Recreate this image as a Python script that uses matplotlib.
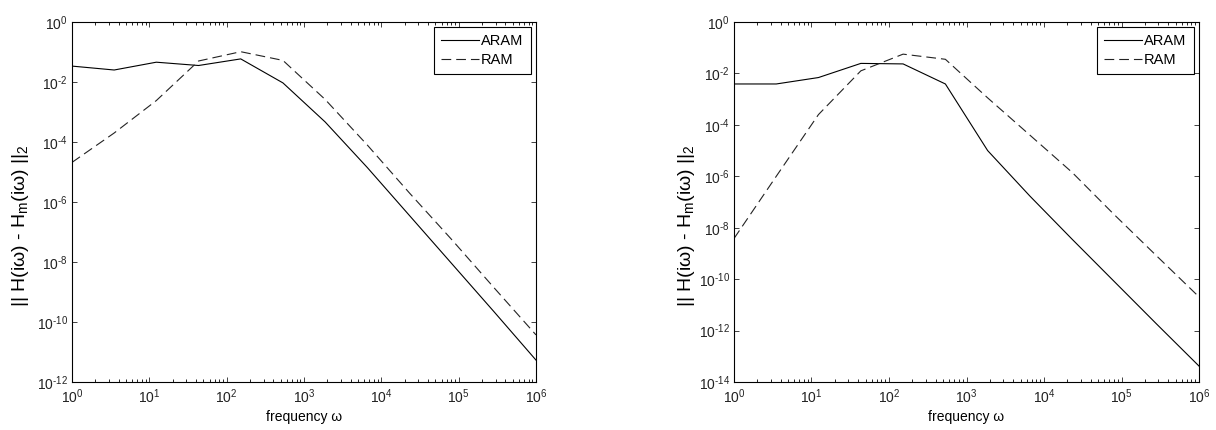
import matplotlib
matplotlib.use("Agg")
import matplotlib.pyplot as plt
import matplotlib.ticker as ticker

plt.rcParams["font.family"] = ["Liberation Sans", "DejaVu Sans"]
plt.rcParams["mathtext.fontset"] = "custom"
plt.rcParams["mathtext.rm"] = "Liberation Sans"
plt.rcParams["mathtext.it"] = "Liberation Sans:italic"
plt.rcParams["mathtext.default"] = "regular"
plt.rcParams["axes.unicode_minus"] = False
plt.rcParams["lines.scale_dashes"] = False

# frequency samples
freq = [1.0, 3.51, 12.3, 43.3, 152.0, 534.0, 1874.0, 6580.0,
        23100.0, 81100.0, 284800.0, 1.0e6]

# left panel: log10 of the error
left_aram_log = [-1.47, -1.60, -1.34, -1.45, -1.23, -2.03,
                 -3.33, -4.85, -6.45, -8.05, -9.65, -11.27]
left_ram_log = [-4.68, -3.70, -2.62, -1.30, -0.99, -1.28,
                -2.58, -4.10, -5.70, -7.25, -8.85, -10.43]

# right panel: log10 of the error
right_aram_log = [-2.41, -2.41, -2.16, -1.61, -1.63, -2.41,
                  -5.00, -6.77, -8.45, -10.10, -11.75, -13.38]
right_ram_log = [-8.42, -6.00, -3.60, -1.90, -1.25, -1.45,
                 -2.95, -4.40, -5.85, -7.50, -9.10, -10.69]

panels = [
    {"aram": left_aram_log, "ram": left_ram_log, "ymin_exp": -12,
     "rect": [72 / 1216, 48 / 430, 464 / 1216, 360 / 430], "ylab_x": -0.088},
    {"aram": right_aram_log, "ram": right_ram_log, "ymin_exp": -14,
     "rect": [734 / 1216, 48 / 430, 465 / 1216, 360 / 430], "ylab_x": -0.080},
]


def pow10(val, pos):
    # MATLAB style exponent with a plain hyphen
    e = int(round(__import__("math").log10(val)))
    if e < 0:
        return r"$10^{\text{-}%d}$" % abs(e)
    return r"$10^{%d}$" % e


fig = plt.figure(figsize=(12.16, 4.30), dpi=100)

for p in panels:
    ax = fig.add_axes(p["rect"])
    aram = [10 ** v for v in p["aram"]]
    ram = [10 ** v for v in p["ram"]]
    ax.plot(freq, aram, color="black", lw=0.8, label="ARAM")
    ax.plot(freq, ram, color="#222222", lw=0.8, ls=(0, (7.0, 3.6)), label="RAM")
    ax.set_xscale("log")
    ax.set_yscale("log")
    ax.set_xlim(1, 1e6)
    ax.set_ylim(10.0 ** p["ymin_exp"], 1)

    ax.xaxis.set_major_locator(ticker.LogLocator(base=10, numticks=10))
    ax.xaxis.set_minor_locator(ticker.LogLocator(base=10, subs=range(2, 10), numticks=20))
    ax.set_yticks([10.0 ** e for e in range(p["ymin_exp"], 1, 2)])
    ax.yaxis.set_minor_locator(ticker.NullLocator())
    ax.xaxis.set_major_formatter(ticker.FuncFormatter(pow10))
    ax.yaxis.set_major_formatter(ticker.FuncFormatter(pow10))

    ax.tick_params(which="both", direction="in", top=True, right=True, width=0.6)
    ax.tick_params(which="major", length=3.6, labelsize=10, colors="#222222")
    ax.tick_params(which="minor", length=2.0)
    ax.tick_params(axis="x", which="major", pad=4)
    ax.tick_params(axis="y", which="major", pad=3)
    for s in ax.spines.values():
        s.set_linewidth(0.8)

    ax.set_xlabel("frequency ω", fontsize=10, labelpad=3)
    ax.set_ylabel("|| H(iω) - H$_m$(iω) ||$_2$", fontsize=14)
    ax.yaxis.set_label_coords(p["ylab_x"], 0.435)

    leg = ax.legend(loc="upper right", fontsize=10.5, handlelength=2.6,
                    handletextpad=0.15, borderaxespad=0.35, fancybox=False,
                    framealpha=1, borderpad=0.5, labelspacing=0.3)
    leg.get_frame().set_edgecolor("black")
    leg.get_frame().set_linewidth(0.8)

fig.savefig("out.png", dpi=100)
